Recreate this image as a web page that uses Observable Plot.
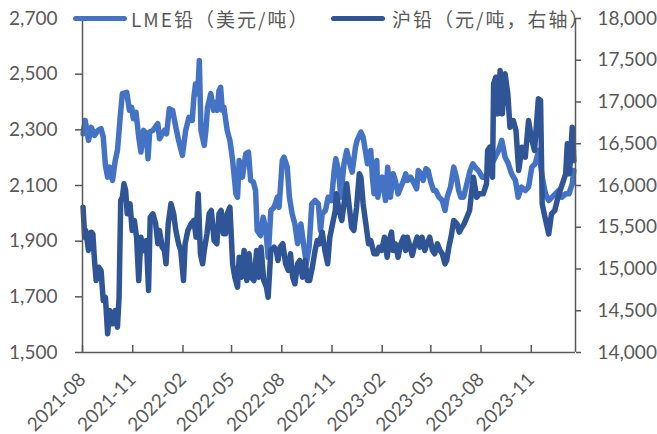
<!DOCTYPE html>
<html><head><meta charset="utf-8">
<script src="https://cdn.jsdelivr.net/npm/d3@7"></script>
<script src="https://cdn.jsdelivr.net/npm/@observablehq/plot@0.6"></script>
<style>
html,body{margin:0;padding:0;background:#fff;}
#wrap{position:relative;width:657px;height:434px;}
.leg{position:absolute;top:0;height:36px;display:flex;align-items:center;font-family:"Noto Sans CJK SC",sans-serif;font-size:19px;letter-spacing:2px;color:#595959;white-space:nowrap;}
.sw{display:inline-block;width:54px;height:5px;border-radius:3px;margin-right:5px;}
</style></head><body><div id="wrap"></div>
<script>
const seriesNames = ["LME铅（美元/吨）", "沪铅（元/吨，右轴）"];
const seriesColors = ["#4472C4", "#2F5597"];
const xTicks = ["2021-08-01","2021-11-01","2022-02-01","2022-05-01","2022-08-01","2022-11-01","2023-02-01","2023-05-01","2023-08-01","2023-11-01"];
const leftTicks = [1500,1700,1900,2100,2300,2500,2700];
const rightTicks = [14000,14500,15000,15500,16000,16500,17000,17500,18000];

const lmeDates = ["2021-08-02","2021-08-06","2021-08-12","2021-08-17","2021-08-23","2021-08-29","2021-09-04","2021-09-08","2021-09-12","2021-09-16","2021-09-20","2021-09-25","2021-09-30","2021-10-04","2021-10-09","2021-10-13","2021-10-21","2021-10-26","2021-10-30","2021-11-02","2021-11-07","2021-11-12","2021-11-16","2021-11-21","2021-11-26","2021-11-29","2021-12-02","2021-12-08","2021-12-17","2021-12-20","2021-12-29","2022-01-02","2022-01-07","2022-01-13","2022-01-19","2022-01-24","2022-01-31","2022-02-06","2022-02-12","2022-02-18","2022-02-21","2022-02-24","2022-02-28","2022-03-03","2022-03-06","2022-03-12","2022-03-15","2022-03-18","2022-03-24","2022-03-29","2022-04-02","2022-04-05","2022-04-08","2022-04-11","2022-04-14","2022-04-17","2022-04-23","2022-04-28","2022-05-03","2022-05-09","2022-05-12","2022-05-15","2022-05-21","2022-05-27","2022-06-01","2022-06-05","2022-06-10","2022-06-14","2022-06-17","2022-06-23","2022-06-28","2022-07-03","2022-07-07","2022-07-12","2022-07-18","2022-07-24","2022-07-27","2022-08-02","2022-08-05","2022-08-11","2022-08-15","2022-08-20","2022-08-25","2022-08-30","2022-09-05","2022-09-09","2022-09-15","2022-09-20","2022-09-25","2022-10-01","2022-10-07","2022-10-11","2022-10-14","2022-10-20","2022-10-25","2022-10-31","2022-11-05","2022-11-08","2022-11-13","2022-11-17","2022-11-23","2022-11-28","2022-12-02","2022-12-08","2022-12-14","2022-12-17","2022-12-24","2022-12-28","2023-01-01","2023-01-05","2023-01-11","2023-01-14","2023-01-17","2023-01-22","2023-01-24","2023-01-28","2023-02-01","2023-02-07","2023-02-11","2023-02-16","2023-02-21","2023-02-25","2023-03-02","2023-03-07","2023-03-12","2023-03-16","2023-03-19","2023-03-25","2023-03-30","2023-04-05","2023-04-08","2023-04-13","2023-04-17","2023-04-22","2023-04-26","2023-05-01","2023-05-06","2023-05-10","2023-05-16","2023-05-22","2023-05-27","2023-05-31","2023-06-06","2023-06-12","2023-06-17","2023-06-21","2023-06-25","2023-06-30","2023-07-06","2023-07-12","2023-07-17","2023-07-21","2023-07-27","2023-08-03","2023-08-09","2023-08-15","2023-08-21","2023-08-27","2023-09-02","2023-09-08","2023-09-14","2023-09-20","2023-09-26","2023-10-03","2023-10-08","2023-10-14","2023-10-21","2023-10-27","2023-11-02","2023-11-08","2023-11-15","2023-11-21","2023-11-27","2023-12-03","2023-12-09","2023-12-15","2023-12-21","2023-12-27","2024-01-03","2024-01-09","2024-01-15","2024-01-18"];
const lmeValues = [2286,2334,2262,2309,2280,2298,2304,2274,2172,2130,2166,2118,2190,2226,2345,2430,2435,2370,2381,2340,2363,2274,2220,2298,2286,2196,2292,2298,2322,2268,2298,2286,2376,2370,2309,2262,2208,2298,2345,2334,2417,2465,2430,2549,2298,2244,2298,2381,2430,2370,2399,2370,2441,2453,2370,2381,2298,2262,2190,2070,2058,2190,2130,2214,2220,2118,2112,2082,1938,1920,1986,1938,1842,2010,2022,2058,2022,2190,2202,2166,2058,1998,1962,1891,1962,1902,1819,1878,2034,2046,2034,1938,1998,2010,2058,2046,2154,2196,2154,2058,2178,2226,2190,2148,2238,2262,2292,2274,2226,2178,2226,2130,2070,2190,2058,2106,2130,2046,2166,2058,2142,2118,2070,2094,2118,2142,2118,2130,2112,2088,2154,2142,2118,2160,2154,2112,2082,2082,2058,2046,2010,2058,2094,2166,2130,2082,2058,2058,2106,2154,2178,2166,2154,2130,2130,2154,2178,2202,2226,2262,2202,2178,2142,2118,2058,2094,2082,2094,2166,2178,2226,2130,2070,2046,2058,2070,2082,2058,2070,2070,2106,2154];

const shfeDates = ["2021-08-02","2021-08-05","2021-08-07","2021-08-12","2021-08-17","2021-08-20","2021-08-23","2021-08-26","2021-08-31","2021-09-04","2021-09-08","2021-09-12","2021-09-16","2021-09-20","2021-09-25","2021-09-30","2021-10-04","2021-10-07","2021-10-10","2021-10-13","2021-10-16","2021-10-19","2021-10-22","2021-10-27","2021-10-31","2021-11-04","2021-11-08","2021-11-12","2021-11-16","2021-11-21","2021-11-26","2021-11-30","2021-12-03","2021-12-08","2021-12-13","2021-12-17","2021-12-20","2021-12-25","2021-12-29","2022-01-01","2022-01-05","2022-01-10","2022-01-15","2022-01-19","2022-01-24","2022-01-28","2022-02-02","2022-02-05","2022-02-10","2022-02-16","2022-02-21","2022-02-25","2022-03-01","2022-03-05","2022-03-09","2022-03-12","2022-03-17","2022-03-21","2022-03-25","2022-03-30","2022-04-04","2022-04-08","2022-04-12","2022-04-16","2022-04-20","2022-04-23","2022-04-28","2022-05-03","2022-05-07","2022-05-12","2022-05-15","2022-05-19","2022-05-24","2022-05-29","2022-06-02","2022-06-06","2022-06-11","2022-06-16","2022-06-20","2022-06-24","2022-06-29","2022-07-04","2022-07-07","2022-07-12","2022-07-18","2022-07-22","2022-07-25","2022-07-29","2022-08-03","2022-08-08","2022-08-13","2022-08-17","2022-08-21","2022-08-25","2022-08-30","2022-09-03","2022-09-08","2022-09-13","2022-09-17","2022-09-21","2022-09-26","2022-10-01","2022-10-05","2022-10-09","2022-10-14","2022-10-19","2022-10-24","2022-10-28","2022-11-02","2022-11-07","2022-11-09","2022-11-14","2022-11-19","2022-11-23","2022-11-28","2022-12-02","2022-12-07","2022-12-11","2022-12-16","2022-12-21","2022-12-24","2022-12-28","2023-01-02","2023-01-07","2023-01-11","2023-01-17","2023-01-22","2023-01-26","2023-01-31","2023-02-05","2023-02-10","2023-02-14","2023-02-18","2023-02-21","2023-02-25","2023-03-02","2023-03-07","2023-03-12","2023-03-16","2023-03-19","2023-03-24","2023-03-28","2023-04-02","2023-04-06","2023-04-11","2023-04-15","2023-04-20","2023-04-24","2023-04-29","2023-05-04","2023-05-08","2023-05-13","2023-05-18","2023-05-22","2023-05-27","2023-05-30","2023-06-03","2023-06-07","2023-06-12","2023-06-18","2023-06-22","2023-06-27","2023-07-01","2023-07-06","2023-07-11","2023-07-15","2023-07-18","2023-07-24","2023-07-29","2023-08-05","2023-08-11","2023-08-13","2023-08-17","2023-08-22","2023-08-24","2023-08-28","2023-09-01","2023-09-05","2023-09-09","2023-09-14","2023-09-19","2023-09-23","2023-09-29","2023-10-04","2023-10-09","2023-10-15","2023-10-21","2023-10-27","2023-11-01","2023-11-07","2023-11-14","2023-11-18","2023-11-21","2023-11-26","2023-12-03","2023-12-08","2023-12-14","2023-12-20","2023-12-26","2024-01-03","2024-01-06","2024-01-10","2024-01-15","2024-01-18"];
const shfeValues = [15740,15381,15461,15222,15441,15421,15102,14862,15022,14982,14623,14662,14224,14503,14344,14503,14303,14662,15820,15860,16020,15940,15661,15781,15461,15581,15381,14862,15381,15222,15341,14743,15620,15661,15541,15302,15461,15261,15222,15062,15541,15781,15661,15461,15302,15222,14862,15302,15461,15541,15581,15381,15901,15182,15062,15222,15421,15661,15701,15341,15302,15661,15701,15421,15421,15661,15740,15062,14902,14782,15141,14902,15222,14862,15182,14902,14862,15222,14902,15261,14862,14782,14662,15222,15261,15222,15102,15261,15302,15062,14982,15182,14902,14823,15062,15102,14902,15102,14862,14862,15022,15222,15341,15302,15441,15222,15062,15381,15541,15701,15901,15701,15581,15781,16020,15781,15501,15461,15740,16140,16100,15781,15541,15302,15341,15182,15182,15261,15222,15381,15141,15341,15441,15222,15302,15141,15302,15381,15222,15381,15261,15162,15302,15381,15261,15381,15222,15302,15381,15222,15182,15302,15222,15182,15062,15102,15261,15381,15581,15541,15441,15501,15541,15620,15701,15940,16099,15860,15901,15901,16020,16419,16459,16099,17218,17297,16859,17377,16859,17338,17098,16698,16778,16659,16180,16459,16339,16778,16578,16419,17038,17018,15781,15620,15421,15661,15701,15860,15980,16140,16499,16140,16698,16299];

// secondary axis mapping: right [14000,18000] onto left [1500,2700]
const L0 = 1500, L1 = 2700, R0 = 14000, R1 = 18000;
const toLeft = v => L0 + (v - R0) * (L1 - L0) / (R1 - R0);
const toRight = v => R0 + (v - L0) * (R1 - R0) / (L1 - L0);
const fmt = d3.format(",");

const lme = lmeDates.map((d, i) => ({date: new Date(d), value: lmeValues[i]}));
const shfe = shfeDates.map((d, i) => ({date: new Date(d), value: toLeft(shfeValues[i])}));
const xt = xTicks.map(d => new Date(d));
const xDomain = [new Date("2021-08-01"), new Date("2024-01-21")];
const axisColor = "#595959";

const chart = Plot.plot({
  width: 657, height: 434,
  marginLeft: 82, marginRight: 82, marginTop: 18, marginBottom: 82,
  style: {fontFamily: "Lato, 'Noto Sans', sans-serif", fontSize: "19px", color: axisColor, background: "#fff", overflow: "visible"},
  x: {type: "utc", domain: xDomain},
  y: {domain: [L0, L1]},
  marks: [
    Plot.lineY(lme, {x: "date", y: "value", stroke: seriesColors[0], strokeWidth: 5.5}),
    Plot.lineY(shfe, {x: "date", y: "value", stroke: seriesColors[1], strokeWidth: 5.5}),
    Plot.ruleY([L0], {stroke: axisColor, strokeWidth: 1.5}),
    Plot.ruleX([xDomain[0]], {stroke: axisColor, strokeWidth: 1.5}),
    Plot.ruleX([xDomain[1]], {stroke: axisColor, strokeWidth: 1.5}),
    Plot.axisY(leftTicks, {anchor: "left", tickSize: 7, tickPadding: 18, tickFormat: fmt, strokeWidth: 1.5, label: null}),
    Plot.axisY(rightTicks.map(toLeft), {anchor: "right", tickSize: 5, tickPadding: 17, tickFormat: d => fmt(Math.round(toRight(d))), strokeWidth: 1.5, label: null}),
    Plot.axisX(xt, {tickSize: -7, fill: "none", strokeWidth: 1.5, label: null}),
    Plot.axisX(xt, {tickSize: 0, tickPadding: 24, tickRotate: -45, tickFormat: d3.utcFormat("%Y-%m"), label: null})
  ]
});
const wrap = document.getElementById("wrap");
wrap.appendChild(chart);

// legend overlaid on top row
const legPos = [{sw: 73, text: 131}, {sw: 331, text: 392}];
seriesNames.forEach((name, i) => {
  const sw = document.createElement("div");
  sw.className = "leg";
  sw.style.left = legPos[i].sw + "px";
  sw.innerHTML = `<span class="sw" style="background:${seriesColors[i]}"></span>`;
  wrap.appendChild(sw);
  const t = document.createElement("div");
  t.className = "leg";
  t.style.left = legPos[i].text + "px";
  t.textContent = name;
  wrap.appendChild(t);
});
</script></body></html>
